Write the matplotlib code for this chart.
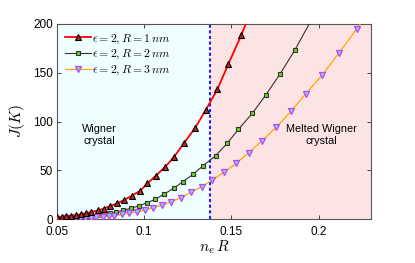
import matplotlib
matplotlib.use("Agg")
import matplotlib.pyplot as plt

plt.rcParams['font.family'] = ['Liberation Sans', 'DejaVu Sans']
plt.rcParams['mathtext.fontset'] = 'cm'

# boundary between the two phases
x_melt = 0.138

# eps = 2, R = 1 nm
x_r1 = [0.0502, 0.0527, 0.0553, 0.0582, 0.0611, 0.0640, 0.0668, 0.0697, 0.0734,
        0.0770, 0.0805, 0.0847, 0.0885, 0.0929, 0.0977, 0.1019, 0.1067, 0.1121,
        0.1172, 0.1230, 0.1293, 0.1353, 0.1420, 0.1483, 0.1557, 0.1632]
j_r1 = [2.0, 2.4, 2.9, 3.5, 4.2, 5.0, 6.0, 7.2, 8.8, 10.8, 13.3, 16.1, 19.5, 23.9,
        29.0, 36.6, 44.4, 53.6, 63.9, 78.3, 93.6, 111.8, 133.0, 159.0, 188.7, 222.0]

# eps = 2, R = 2 nm
x_r2 = [0.0502, 0.0527, 0.0553, 0.0582, 0.0611, 0.0640, 0.0668, 0.0697, 0.0734,
        0.0770, 0.0805, 0.0841, 0.0881, 0.0925, 0.0969, 0.1016, 0.1064, 0.1112,
        0.1169, 0.1222, 0.1280, 0.1338, 0.1409, 0.1476, 0.1540, 0.1620, 0.1697,
        0.1779, 0.1864, 0.1955]
j_r2 = [1.0, 1.2, 1.4, 1.7, 2.0, 2.4, 2.9, 3.4, 4.1, 4.9, 5.8, 6.9, 9.2, 11.0,
        13.6, 16.7, 20.2, 25.3, 31.5, 38.3, 45.8, 54.7, 64.9, 77.6, 92.0, 108.4,
        127.2, 148.7, 173.3, 203.0]

# eps = 2, R = 3 nm
x_r3 = [0.0502, 0.0524, 0.0549, 0.0575, 0.0603, 0.0632, 0.0662, 0.0694, 0.0727,
        0.0762, 0.0799, 0.0828, 0.0872, 0.0914, 0.0958, 0.1006, 0.1052, 0.1102,
        0.1153, 0.1211, 0.1268, 0.1329, 0.1391, 0.1456, 0.1527, 0.1599, 0.1675,
        0.1757, 0.1843, 0.1925, 0.2021, 0.2115, 0.2217, 0.2324]
j_r3 = [0.4, 0.5, 0.6, 0.7, 0.8, 1.0, 1.2, 1.5, 1.9, 2.3, 2.7, 3.1, 4.8, 5.8,
        7.4, 9.2, 11.6, 14.4, 17.7, 21.8, 27.4, 33.1, 40.0, 47.9, 57.1, 68.0,
        80.2, 94.0, 110.8, 128.2, 147.7, 169.9, 194.6, 222.0]

labels = [r'$\epsilon=2, R=1\,nm$', r'$\epsilon=2, R=2\,nm$', r'$\epsilon=2, R=3\,nm$']

fig = plt.figure(figsize=(4.15, 2.63), dpi=100)
ax = fig.add_axes([0.137, 0.167, 0.757, 0.742])

ax.axvspan(0.05, x_melt, color='#efffff', zorder=0)
ax.axvspan(x_melt, 0.23, color='#fde4e4', zorder=0)
ax.axvline(x_melt, color='#1f1fff', ls=(0, (1.5, 1.2)), lw=1.5, zorder=1)

ax.plot(x_r1, j_r1, color='red', lw=1.3, marker='^', ms=5, mfc='#c0282a',
        mec='black', mew=0.8, label=labels[0], zorder=4)
ax.plot(x_r2, j_r2, color='#333333', lw=0.8, marker='s', ms=3.5, mfc='#66d41a',
        mec='#333333', mew=0.8, label=labels[1], zorder=3)
ax.plot(x_r3, j_r3, color='orange', lw=0.9, marker='v', ms=4.5, mfc='#7fd3e3',
        mec='#c040ff', mew=0.9, label=labels[2], zorder=3)

ax.text(0.0742, 86, 'Wigner\ncrystal', ha='center', va='center', fontsize=7.8,
        linespacing=1.3)
ax.text(0.2017, 86, 'Melted Wigner\ncrystal', ha='center', va='center',
        fontsize=7.8, linespacing=1.3)

ax.set_xlim(0.05, 0.23)
ax.set_ylim(0, 200)
ax.set_xticks([0.05, 0.1, 0.15, 0.2])
ax.set_xticklabels(['0.05', '0.1', '0.15', '0.2'])
ax.set_yticks([0, 50, 100, 150, 200])
ax.tick_params(direction='in', top=True, right=True, labelsize=8.5, length=3,
               width=0.7, color='#444444', pad=3)
ax.tick_params(axis='x', pad=5)
for s in ax.spines.values():
    s.set_color('#555555')
    s.set_linewidth(0.8)

ax.set_xlabel(r'$n_e\, R$', fontsize=11, labelpad=0)
ax.set_ylabel(r'$J(K)$', fontsize=11, labelpad=4)

ax.legend(loc='upper left', frameon=False, fontsize=8.5, handlelength=2.2,
          handletextpad=0.1, borderaxespad=0.3, labelspacing=0.2)

fig.savefig('out.png', dpi=100)
